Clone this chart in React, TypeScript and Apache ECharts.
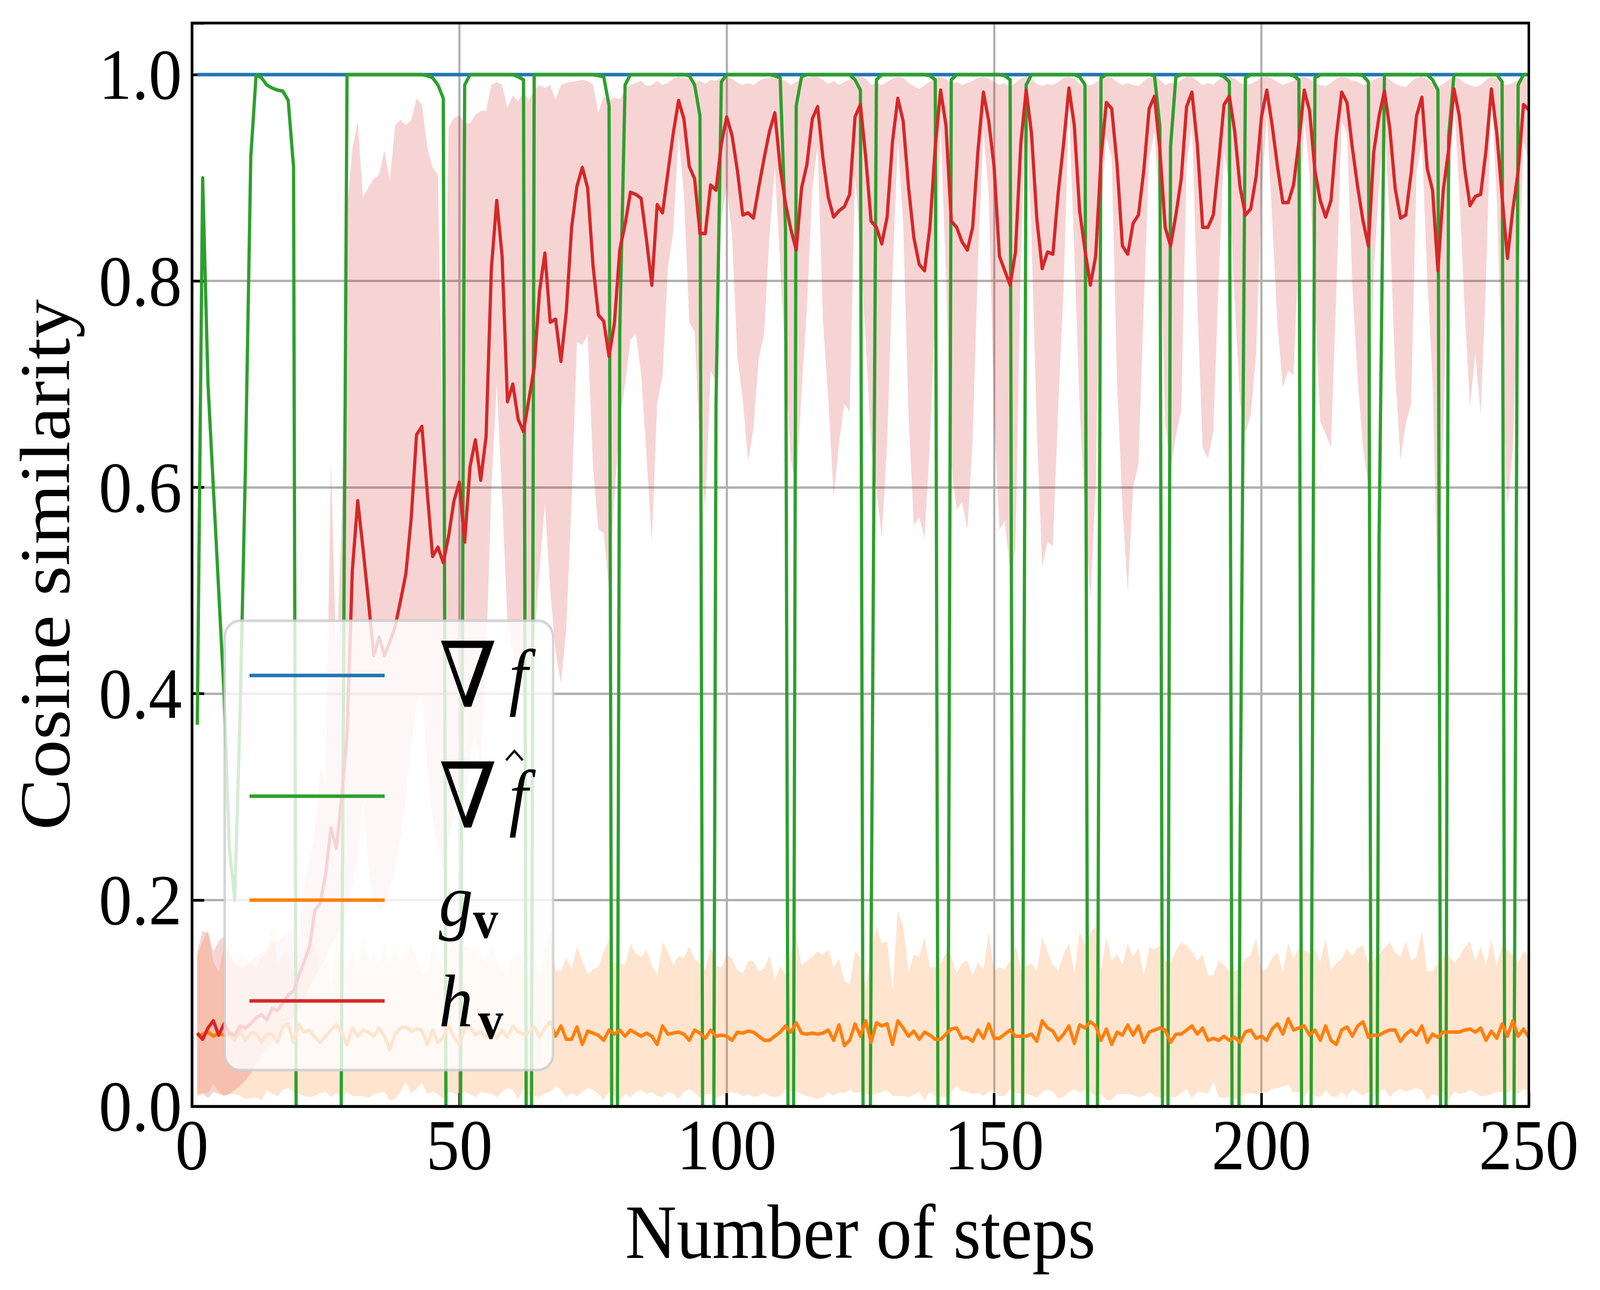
import React, { useEffect, useRef, useState } from 'react';
import * as echarts from 'echarts';

const W = 4451;
const H = 3302;
const SERIF = '"Liberation Serif", "Times New Roman", serif';
const MATH = '"DejaVu Serif", serif';

const BLUE = '#1f77b4';
const GREEN = '#2ca02c';
const ORANGE = '#ff7f0e';
const RED = '#d62728';

// x positions (training steps)
const steps = Array.from({ length: 250 }, (_, i) => i + 1);
const xTickValues = [0, 50, 100, 150, 200, 250];
const yTickValues = [0, 0.2, 0.4, 0.6, 0.8, 1.0];

// ∇f : exact gradient, cosine similarity with itself
const gradF = [
  1, 1, 1, 1, 1, 1, 1, 1, 1, 1, 1, 1, 1, 1, 1, 1, 1, 1, 1, 1, 1, 1, 1, 1, 1,
  1, 1, 1, 1, 1, 1, 1, 1, 1, 1, 1, 1, 1, 1, 1, 1, 1, 1, 1, 1, 1, 1, 1, 1, 1,
  1, 1, 1, 1, 1, 1, 1, 1, 1, 1, 1, 1, 1, 1, 1, 1, 1, 1, 1, 1, 1, 1, 1, 1, 1,
  1, 1, 1, 1, 1, 1, 1, 1, 1, 1, 1, 1, 1, 1, 1, 1, 1, 1, 1, 1, 1, 1, 1, 1, 1,
  1, 1, 1, 1, 1, 1, 1, 1, 1, 1, 1, 1, 1, 1, 1, 1, 1, 1, 1, 1, 1, 1, 1, 1, 1,
  1, 1, 1, 1, 1, 1, 1, 1, 1, 1, 1, 1, 1, 1, 1, 1, 1, 1, 1, 1, 1, 1, 1, 1, 1,
  1, 1, 1, 1, 1, 1, 1, 1, 1, 1, 1, 1, 1, 1, 1, 1, 1, 1, 1, 1, 1, 1, 1, 1, 1,
  1, 1, 1, 1, 1, 1, 1, 1, 1, 1, 1, 1, 1, 1, 1, 1, 1, 1, 1, 1, 1, 1, 1, 1, 1,
  1, 1, 1, 1, 1, 1, 1, 1, 1, 1, 1, 1, 1, 1, 1, 1, 1, 1, 1, 1, 1, 1, 1, 1, 1,
  1, 1, 1, 1, 1, 1, 1, 1, 1, 1, 1, 1, 1, 1, 1, 1, 1, 1, 1, 1, 1, 1, 1, 1, 1,
];

// ∇f̂ : surrogate gradient (drops to about -1, clipped by the axis)
const gradFHat = [
  0.37, 0.90, 0.70, 0.60, 0.50, 0.40, 0.25, 0.20, 0.38, 0.62,
  0.92, 1.00, 0.997, 0.99, 0.987, 0.985, 0.984, 0.975, 0.91, -1,
  -1, -1, -1, -1, -1, -1, -1, 0.10, 1.00, 1.00,
  1, 1, 1, 1, 1, 1, 1, 1, 1, 1,
  1, 1, 1, 0.999, 0.997, 0.99, 0.977, -1, -1, -0.3,
  0.99, 1, 1, 1, 1, 1, 1, 1, 1, 1,
  0.998, 0.995, -1, 1, 1, 1, 1, 1, 1, 1,
  1, 1, 1, 1, 1, 0.999, 0.998, 0.97, -1, 0.75,
  0.99, 1, 1, 1, 1, 1, 1, 1, 1, 1,
  1, 1, 0.999, 0.99, 0.96, -1, -1, 0.68, 0.993, 1,
  1, 1, 1, 1, 1, 1, 1, 1, 0.999, 0.997,
  0.85, -1, 0.97, 0.998, 1, 1, 1, 1, 1, 1,
  1, 1, 1, 0.995, 0.985, -1, 0.15, 0.995, 1, 1,
  1, 1, 1, 1, 1, 1, 1, 0.999, 0.995, -1,
  -0.6, 0.995, 1, 1, 1, 1, 1, 1, 1, 1,
  1, 0.999, 0.995, -1, -0.5, 0.99, 1, 1, 1, 1,
  1, 1, 1, 1, 1, 0.998, 0.99, -1, -0.5, 0.997,
  1, 1, 1, 1, 1, 1, 1, 1, 1, 0.999,
  0.95, -1, 0.93, 0.998, 1, 1, 1, 1, 1, 1,
  1, 1, 0.998, 0.993, -1, 0.25, 0.997, 1, 1, 1,
  1, 1, 1, 1, 1, 0.999, 0.995, -1, -0.4, 0.997,
  1, 1, 1, 1, 1, 1, 1, 1, 0.999, 0.993,
  -1, 0.55, 1, 1, 1, 1, 1, 1, 1, 1,
  1, 0.995, 0.985, -1, 0.94, 1, 1, 1, 1, 1,
  1, 1, 1, 1, 0.993, -1, -0.3, 0.99, 1, 1,
];

// g_v : mean and band
const gMean = [
  0.068, 0.070, 0.072, 0.068, 0.071, 0.069, 0.070, 0.064, 0.074, 0.064,
  0.071, 0.071, 0.062, 0.070, 0.070, 0.062, 0.077, 0.080, 0.062, 0.079,
  0.072, 0.074, 0.067, 0.062, 0.068, 0.074, 0.079, 0.072, 0.060, 0.076,
  0.068, 0.074, 0.072, 0.068, 0.076, 0.068, 0.055, 0.070, 0.076, 0.077,
  0.073, 0.075, 0.074, 0.060, 0.074, 0.062, 0.067, 0.079, 0.067, 0.060,
  0.075, 0.077, 0.069, 0.073, 0.067, 0.074, 0.066, 0.074, 0.067, 0.078,
  0.072, 0.070, 0.072, 0.077, 0.067, 0.076, 0.082, 0.068, 0.078, 0.065,
  0.065, 0.077, 0.060, 0.073, 0.071, 0.069, 0.064, 0.074, 0.070, 0.074,
  0.068, 0.074, 0.071, 0.068, 0.071, 0.068, 0.060, 0.078, 0.070, 0.071,
  0.072, 0.070, 0.064, 0.074, 0.071, 0.066, 0.074, 0.068, 0.069, 0.068,
  0.064, 0.072, 0.071, 0.073, 0.072, 0.068, 0.064, 0.064, 0.068, 0.072,
  0.078, 0.072, 0.081, 0.071, 0.070, 0.071, 0.070, 0.071, 0.074, 0.064,
  0.079, 0.059, 0.064, 0.080, 0.068, 0.083, 0.062, 0.081, 0.078, 0.080,
  0.060, 0.083, 0.076, 0.068, 0.073, 0.065, 0.072, 0.069, 0.065, 0.065,
  0.070, 0.075, 0.076, 0.066, 0.067, 0.063, 0.074, 0.066, 0.080, 0.066,
  0.066, 0.070, 0.074, 0.068, 0.068, 0.068, 0.070, 0.063, 0.083, 0.076,
  0.073, 0.064, 0.070, 0.078, 0.061, 0.079, 0.076, 0.082, 0.078, 0.064,
  0.075, 0.060, 0.072, 0.069, 0.079, 0.069, 0.078, 0.062, 0.072, 0.074,
  0.076, 0.074, 0.062, 0.070, 0.070, 0.074, 0.078, 0.070, 0.076, 0.064,
  0.066, 0.064, 0.068, 0.064, 0.067, 0.062, 0.072, 0.074, 0.066, 0.068,
  0.064, 0.075, 0.080, 0.070, 0.085, 0.074, 0.076, 0.078, 0.069, 0.074,
  0.064, 0.078, 0.064, 0.060, 0.074, 0.077, 0.068, 0.078, 0.082, 0.067,
  0.069, 0.069, 0.072, 0.074, 0.074, 0.063, 0.070, 0.074, 0.069, 0.078,
  0.062, 0.070, 0.067, 0.072, 0.072, 0.072, 0.072, 0.074, 0.075, 0.072,
  0.076, 0.064, 0.073, 0.066, 0.080, 0.068, 0.083, 0.068, 0.075, 0.067,
];

const gUpper = [
  0.147, 0.160, 0.172, 0.140, 0.130, 0.155, 0.148, 0.136, 0.145, 0.144,
  0.140, 0.133, 0.145, 0.150, 0.175, 0.139, 0.147, 0.150, 0.129, 0.140,
  0.151, 0.162, 0.155, 0.137, 0.147, 0.114, 0.168, 0.158, 0.133, 0.152,
  0.131, 0.166, 0.141, 0.148, 0.136, 0.158, 0.136, 0.155, 0.140, 0.150,
  0.158, 0.143, 0.129, 0.128, 0.155, 0.145, 0.133, 0.150, 0.162, 0.150,
  0.155, 0.154, 0.150, 0.144, 0.139, 0.154, 0.140, 0.133, 0.128, 0.148,
  0.150, 0.139, 0.128, 0.148, 0.128, 0.152, 0.170, 0.132, 0.131, 0.144,
  0.133, 0.155, 0.141, 0.128, 0.133, 0.135, 0.150, 0.162, 0.139, 0.139,
  0.137, 0.158, 0.148, 0.145, 0.152, 0.137, 0.127, 0.159, 0.150, 0.137,
  0.146, 0.144, 0.155, 0.143, 0.139, 0.133, 0.155, 0.136, 0.135, 0.147,
  0.143, 0.132, 0.129, 0.141, 0.141, 0.131, 0.133, 0.147, 0.122, 0.136,
  0.128, 0.149, 0.166, 0.137, 0.141, 0.145, 0.150, 0.147, 0.152, 0.135,
  0.143, 0.122, 0.118, 0.151, 0.144, 0.114, 0.150, 0.175, 0.158, 0.160,
  0.114, 0.189, 0.175, 0.130, 0.147, 0.145, 0.164, 0.135, 0.135, 0.139,
  0.149, 0.145, 0.129, 0.139, 0.141, 0.127, 0.140, 0.132, 0.169, 0.131,
  0.135, 0.133, 0.141, 0.156, 0.133, 0.136, 0.139, 0.131, 0.164, 0.150,
  0.137, 0.132, 0.148, 0.158, 0.129, 0.169, 0.158, 0.168, 0.175, 0.132,
  0.164, 0.141, 0.148, 0.137, 0.158, 0.145, 0.154, 0.127, 0.154, 0.152,
  0.156, 0.141, 0.139, 0.151, 0.159, 0.156, 0.150, 0.141, 0.147, 0.127,
  0.127, 0.142, 0.137, 0.131, 0.131, 0.133, 0.143, 0.147, 0.163, 0.131,
  0.133, 0.144, 0.149, 0.131, 0.158, 0.143, 0.154, 0.151, 0.149, 0.152,
  0.140, 0.163, 0.132, 0.139, 0.143, 0.153, 0.146, 0.154, 0.156, 0.139,
  0.142, 0.147, 0.154, 0.159, 0.149, 0.145, 0.160, 0.141, 0.145, 0.170,
  0.131, 0.131, 0.139, 0.145, 0.147, 0.139, 0.145, 0.154, 0.160, 0.141,
  0.155, 0.137, 0.162, 0.136, 0.156, 0.152, 0.146, 0.139, 0.151, 0.145,
];

const gLower = [
  0.012, 0.013, 0.013, 0.022, 0.014, 0.011, 0.012, 0.012, 0.010, 0.007,
  0.008, 0.009, 0.006, 0.016, 0.012, 0.010, 0.016, 0.018, 0.014, 0.012,
  0.010, 0.009, 0.010, 0.013, 0.014, 0.009, 0.013, 0.007, 0.014, 0.010,
  0.010, 0.010, 0.008, 0.012, 0.013, 0.014, 0.006, 0.007, 0.014, 0.024,
  0.012, 0.017, 0.023, 0.012, 0.014, 0.012, 0.007, 0.014, 0.013, 0.010,
  0.014, 0.012, 0.009, 0.014, 0.013, 0.012, 0.009, 0.014, 0.018, 0.016,
  0.007, 0.017, 0.010, 0.010, 0.009, 0.013, 0.014, 0.020, 0.016, 0.009,
  0.013, 0.010, 0.014, 0.018, 0.016, 0.012, 0.006, 0.014, 0.010, 0.006,
  0.012, 0.009, 0.014, 0.016, 0.012, 0.014, 0.010, 0.009, 0.014, 0.012,
  0.007, 0.014, 0.017, 0.013, 0.009, 0.012, 0.012, 0.009, 0.010, 0.013,
  0.014, 0.013, 0.010, 0.012, 0.009, 0.010, 0.013, 0.010, 0.009, 0.010,
  0.017, 0.014, 0.014, 0.012, 0.010, 0.009, 0.007, 0.009, 0.014, 0.010,
  0.014, 0.013, 0.016, 0.013, 0.014, 0.012, 0.011, 0.012, 0.014, 0.016,
  0.010, 0.010, 0.010, 0.009, 0.011, 0.014, 0.006, 0.014, 0.010, 0.009,
  0.009, 0.014, 0.020, 0.014, 0.014, 0.012, 0.013, 0.010, 0.014, 0.016,
  0.010, 0.010, 0.017, 0.013, 0.012, 0.012, 0.011, 0.008, 0.014, 0.016,
  0.014, 0.008, 0.009, 0.014, 0.017, 0.013, 0.016, 0.014, 0.010, 0.012,
  0.006, 0.006, 0.012, 0.012, 0.012, 0.011, 0.009, 0.010, 0.014, 0.010,
  0.009, 0.010, 0.009, 0.009, 0.013, 0.017, 0.008, 0.014, 0.014, 0.012,
  0.024, 0.009, 0.008, 0.009, 0.007, 0.009, 0.012, 0.013, 0.012, 0.015,
  0.013, 0.017, 0.018, 0.019, 0.021, 0.013, 0.014, 0.009, 0.017, 0.010,
  0.009, 0.016, 0.010, 0.009, 0.014, 0.009, 0.017, 0.013, 0.010, 0.014,
  0.009, 0.014, 0.017, 0.009, 0.014, 0.017, 0.014, 0.016, 0.018, 0.016,
  0.006, 0.012, 0.010, 0.014, 0.006, 0.014, 0.012, 0.013, 0.016, 0.013,
  0.010, 0.010, 0.012, 0.014, 0.014, 0.013, 0.016, 0.012, 0.017, 0.014,
];

// h_v : mean and band
const hMean = [
  0.071, 0.065, 0.076, 0.083, 0.069, 0.080, 0.071, 0.069, 0.078, 0.076,
  0.080, 0.086, 0.089, 0.084, 0.095, 0.093, 0.100, 0.108, 0.112, 0.127,
  0.140, 0.155, 0.190, 0.197, 0.225, 0.270, 0.250, 0.300, 0.360, 0.520,
  0.587, 0.540, 0.490, 0.437, 0.455, 0.437, 0.450, 0.465, 0.490, 0.516,
  0.570, 0.651, 0.659, 0.595, 0.533, 0.542, 0.527, 0.553, 0.587, 0.605,
  0.547, 0.620, 0.646, 0.607, 0.649, 0.813, 0.878, 0.824, 0.683, 0.700,
  0.666, 0.654, 0.685, 0.716, 0.790, 0.827, 0.760, 0.763, 0.722, 0.770,
  0.852, 0.892, 0.910, 0.890, 0.815, 0.767, 0.761, 0.727, 0.759, 0.830,
  0.855, 0.886, 0.884, 0.880, 0.840, 0.796, 0.874, 0.866, 0.905, 0.943,
  0.975, 0.957, 0.911, 0.899, 0.846, 0.846, 0.893, 0.888, 0.933, 0.959,
  0.941, 0.907, 0.864, 0.866, 0.861, 0.891, 0.919, 0.945, 0.963, 0.910,
  0.875, 0.850, 0.830, 0.890, 0.913, 0.957, 0.969, 0.919, 0.881, 0.862,
  0.868, 0.872, 0.884, 0.959, 0.971, 0.920, 0.858, 0.852, 0.836, 0.862,
  0.935, 0.977, 0.955, 0.891, 0.842, 0.816, 0.810, 0.852, 0.930, 0.985,
  0.951, 0.858, 0.852, 0.838, 0.830, 0.852, 0.927, 0.983, 0.955, 0.911,
  0.824, 0.810, 0.796, 0.828, 0.933, 0.985, 0.943, 0.860, 0.812, 0.828,
  0.826, 0.886, 0.933, 0.987, 0.951, 0.868, 0.830, 0.796, 0.824, 0.919,
  0.973, 0.967, 0.913, 0.834, 0.826, 0.856, 0.864, 0.907, 0.967, 0.979,
  0.927, 0.852, 0.834, 0.864, 0.899, 0.969, 0.983, 0.933, 0.852, 0.852,
  0.864, 0.915, 0.971, 0.979, 0.945, 0.891, 0.864, 0.870, 0.901, 0.959,
  0.985, 0.951, 0.911, 0.876, 0.876, 0.893, 0.935, 0.985, 0.965, 0.907,
  0.878, 0.862, 0.878, 0.940, 0.983, 0.973, 0.929, 0.891, 0.858, 0.834,
  0.925, 0.960, 0.984, 0.948, 0.890, 0.861, 0.864, 0.905, 0.960, 0.978,
  0.909, 0.888, 0.810, 0.888, 0.927, 0.986, 0.960, 0.909, 0.873, 0.882,
  0.884, 0.927, 0.986, 0.944, 0.882, 0.822, 0.869, 0.906, 0.971, 0.966,
];

const hUpper = [
  0.150, 0.170, 0.168, 0.150, 0.160, 0.165, 0.150, 0.140, 0.135, 0.135,
  0.140, 0.145, 0.150, 0.150, 0.160, 0.160, 0.165, 0.170, 0.170, 0.165,
  0.215, 0.240, 0.268, 0.330, 0.310, 0.626, 0.430, 0.570, 0.870, 0.928,
  0.954, 0.881, 0.891, 0.899, 0.903, 0.927, 0.897, 0.951, 0.956, 0.951,
  0.956, 0.977, 0.971, 0.930, 0.910, 0.903, 0.600, 0.949, 0.958, 0.961,
  0.953, 0.953, 0.961, 0.965, 0.965, 0.990, 0.993, 0.990, 0.968, 0.980,
  0.974, 0.984, 0.975, 0.985, 0.990, 0.987, 0.990, 0.976, 0.990, 0.992,
  0.993, 0.994, 0.995, 0.994, 0.990, 0.963, 0.979, 0.975, 0.978, 0.976,
  0.985, 0.990, 0.992, 0.994, 0.989, 0.990, 0.994, 0.990, 0.992, 0.996,
  0.998, 0.997, 0.996, 0.993, 0.994, 0.991, 0.995, 0.994, 0.997, 0.998,
  0.996, 0.992, 0.990, 0.992, 0.990, 0.994, 0.996, 0.997, 0.998, 0.996,
  0.994, 0.990, 0.993, 0.995, 0.997, 0.998, 0.998, 0.995, 0.991, 0.994,
  0.990, 0.993, 0.995, 0.998, 0.998, 0.996, 0.990, 0.992, 0.990, 0.993,
  0.996, 0.998, 0.997, 0.992, 0.989, 0.986, 0.990, 0.993, 0.997, 0.998,
  0.996, 0.991, 0.993, 0.990, 0.992, 0.994, 0.997, 0.998, 0.996, 0.993,
  0.990, 0.992, 0.988, 0.992, 0.996, 0.998, 0.996, 0.991, 0.989, 0.991,
  0.990, 0.993, 0.997, 0.998, 0.996, 0.991, 0.989, 0.990, 0.992, 0.996,
  0.998, 0.997, 0.993, 0.990, 0.992, 0.990, 0.989, 0.994, 0.997, 0.998,
  0.995, 0.990, 0.992, 0.991, 0.995, 0.998, 0.998, 0.994, 0.990, 0.992,
  0.990, 0.995, 0.997, 0.998, 0.996, 0.992, 0.990, 0.991, 0.994, 0.997,
  0.998, 0.996, 0.993, 0.990, 0.992, 0.994, 0.997, 0.998, 0.996, 0.992,
  0.990, 0.989, 0.992, 0.996, 0.998, 0.997, 0.994, 0.993, 0.990, 0.991,
  0.995, 0.997, 0.998, 0.995, 0.991, 0.989, 0.988, 0.993, 0.997, 0.998,
  0.995, 0.992, 0.988, 0.991, 0.995, 0.998, 0.996, 0.992, 0.990, 0.988,
  0.990, 0.995, 0.998, 0.996, 0.991, 0.990, 0.992, 0.995, 0.997, 0.996,
];

const hLower = [
  0.010, 0.012, 0.008, 0.014, 0.012, 0.010, 0.012, 0.016, 0.020, 0.025,
  0.032, 0.040, 0.048, 0.055, 0.062, 0.068, 0.074, 0.080, 0.088, 0.095,
  0.105, 0.115, 0.125, 0.135, 0.145, 0.155, 0.165, 0.175, 0.190, 0.215,
  0.240, 0.298, 0.230, 0.200, 0.190, 0.195, 0.210, 0.230, 0.260, 0.300,
  0.350, 0.390, 0.400, 0.330, 0.280, 0.250, 0.230, 0.260, 0.280, 0.305,
  0.290, 0.340, 0.360, 0.330, 0.430, 0.600, 0.700, 0.590, 0.470, 0.440,
  0.420, 0.400, 0.420, 0.450, 0.520, 0.584, 0.500, 0.440, 0.410, 0.462,
  0.587, 0.741, 0.738, 0.748, 0.619, 0.559, 0.556, 0.500, 0.590, 0.666,
  0.700, 0.743, 0.749, 0.710, 0.631, 0.547, 0.682, 0.707, 0.812, 0.848,
  0.941, 0.884, 0.760, 0.751, 0.631, 0.581, 0.713, 0.703, 0.860, 0.892,
  0.844, 0.726, 0.685, 0.625, 0.657, 0.725, 0.749, 0.844, 0.911, 0.816,
  0.720, 0.626, 0.600, 0.693, 0.773, 0.890, 0.931, 0.761, 0.685, 0.590,
  0.642, 0.681, 0.673, 0.903, 0.832, 0.741, 0.640, 0.598, 0.551, 0.642,
  0.804, 0.935, 0.856, 0.670, 0.563, 0.571, 0.551, 0.642, 0.773, 0.951,
  0.804, 0.622, 0.578, 0.586, 0.559, 0.646, 0.820, 0.947, 0.884, 0.670,
  0.559, 0.567, 0.519, 0.539, 0.820, 0.971, 0.844, 0.654, 0.523, 0.547,
  0.543, 0.678, 0.792, 0.971, 0.828, 0.678, 0.575, 0.491, 0.598, 0.868,
  0.939, 0.919, 0.701, 0.582, 0.499, 0.600, 0.622, 0.777, 0.919, 0.945,
  0.860, 0.662, 0.618, 0.650, 0.674, 0.911, 0.953, 0.780, 0.638, 0.628,
  0.654, 0.800, 0.927, 0.891, 0.780, 0.681, 0.652, 0.670, 0.729, 0.880,
  0.961, 0.860, 0.757, 0.697, 0.713, 0.709, 0.836, 0.959, 0.903, 0.780,
  0.664, 0.652, 0.638, 0.790, 0.955, 0.943, 0.795, 0.705, 0.638, 0.601,
  0.811, 0.891, 0.956, 0.855, 0.712, 0.627, 0.662, 0.681, 0.906, 0.935,
  0.804, 0.703, 0.480, 0.656, 0.860, 0.975, 0.887, 0.772, 0.678, 0.730,
  0.670, 0.800, 0.985, 0.880, 0.710, 0.580, 0.638, 0.790, 0.935, 0.915,
];

const legendNames = ['∇f', '∇f̂', 'g_v', 'h_v'];

// Plot-area layout (pixels)
const PLOT_LEFT = 534;
const PLOT_TOP = 59;
const PLOT_RIGHT = 4253;
const PLOT_BOTTOM = 2832;

function pairs(ys: number[]) {
  return steps.map((s, i) => [s, ys[i]]);
}

function bandSeries(name: string, lower: number[], upper: number[], fill: string) {
  return {
    name,
    type: 'custom',
    silent: true,
    clip: true,
    z: 1,
    data: [[steps[0], lower[0]]],
    renderItem: (_params: any, api: any) => {
      const pts: number[][] = [];
      for (let i = 0; i < steps.length; i++) pts.push(api.coord([steps[i], upper[i]]));
      for (let i = steps.length - 1; i >= 0; i--) pts.push(api.coord([steps[i], lower[i]]));
      return {
        type: 'polygon',
        silent: true,
        shape: { points: pts },
        style: { fill, stroke: 'none' },
      };
    },
  };
}

function lineSeries(name: string, ys: number[], color: string) {
  return {
    name,
    type: 'line',
    data: pairs(ys),
    symbol: 'none',
    showSymbol: false,
    clip: true,
    z: 2,
    color,
    itemStyle: { color },
    lineStyle: { color, width: 9, join: 'round' },
  };
}

function buildOption() {
  const italic = { fontFamily: SERIF, fontStyle: 'italic', fontSize: 190, color: '#000' };
  const italicF = { ...italic, padding: [0, 0, 0, 33] };
  const nabla = { fontFamily: MATH, fontSize: 232, color: '#000' };
  const bold = { fontFamily: SERIF, fontWeight: 'bold', fontSize: 140, color: '#000' };
  const spacer = (half: number) => ({
    fontFamily: SERIF,
    fontSize: 20,
    color: 'rgba(0,0,0,0)',
    backgroundColor: 'rgba(0,0,0,0)',
    padding: [half - 10, 0, half - 10, 0],
  });
  const legendText: Record<string, string> = {
    '∇f': '{n1|∇}{f1|f}{s1| }',
    '∇f̂': '{n2|∇}{f2|f}{s2| }',
    g_v: '{g3|g}{v3|v}',
    h_v: '{h4|h}{v4|v}{s4| }',
  };

  return {
    animation: false,
    backgroundColor: '#ffffff',
    grid: {
      left: PLOT_LEFT,
      top: PLOT_TOP,
      right: W - PLOT_RIGHT,
      bottom: H - PLOT_BOTTOM,
      containLabel: false,
    },
    xAxis: {
      type: 'value',
      min: 0,
      max: 250,
      interval: 50,
      name: 'Number of steps',
      nameLocation: 'middle',
      nameGap: 222,
      nameTextStyle: { fontFamily: SERIF, fontSize: 198, color: '#000' },
      axisLine: { show: true, onZero: false, lineStyle: { color: '#000', width: 7 } },
      axisTick: { show: true, inside: true, length: 34, lineStyle: { color: '#000', width: 7 } },
      axisLabel: {
        fontFamily: SERIF,
        fontSize: 185,
        color: '#000',
        margin: 6,
        formatter: (v: number) => (xTickValues.indexOf(v) >= 0 ? String(v) : ''),
      },
      splitLine: { show: true, lineStyle: { color: '#b0b0b0', width: 6 } },
    },
    yAxis: {
      type: 'value',
      min: 0,
      max: 1.05,
      interval: 0.2,
      name: 'Cosine similarity',
      nameLocation: 'middle',
      nameGap: 310,
      nameTextStyle: { fontFamily: SERIF, fontSize: 198, color: '#000' },
      axisLine: { show: true, onZero: false, lineStyle: { color: '#000', width: 7 } },
      axisTick: { show: true, inside: true, length: 34, lineStyle: { color: '#000', width: 7 } },
      axisLabel: {
        fontFamily: SERIF,
        fontSize: 185,
        color: '#000',
        margin: 28,
        formatter: (v: number) =>
          yTickValues.some((t) => Math.abs(t - v) < 1e-9) ? v.toFixed(1) : '',
      },
      splitLine: { show: true, lineStyle: { color: '#b0b0b0', width: 6 } },
    },
    legend: {
      data: legendNames,
      orient: 'vertical',
      left: 625,
      top: 1589,
      padding: [2, 65, 39, 69],
      itemGap: 0,
      itemWidth: 376,
      itemHeight: 9,
      icon: 'rect',
      selectedMode: false,
      backgroundColor: 'rgba(255,255,255,0.8)',
      borderColor: 'rgba(204,204,204,0.8)',
      borderWidth: 7,
      borderRadius: 42,
      formatter: (name: string) => legendText[name] || name,
      textStyle: {
        color: '#000',
        padding: [0, 0, 0, 146],
        rich: {
          n1: { ...nabla },
          f1: { ...italicF },
          s1: spacer(138),
          n2: { ...nabla },
          f2: { ...italicF },
          s2: spacer(171),
          g3: { ...italic },
          v3: { ...bold, padding: [100, 0, 0, 0] },
          h4: { ...italic },
          v4: { ...bold, padding: [100, 0, 0, 14] },
          s4: spacer(138),
        },
      },
    },
    graphic: [
      {
        type: 'rect',
        silent: true,
        z: 100,
        shape: {
          x: PLOT_LEFT,
          y: PLOT_TOP,
          width: PLOT_RIGHT - PLOT_LEFT,
          height: PLOT_BOTTOM - PLOT_TOP,
        },
        style: { fill: 'none', stroke: '#000', lineWidth: 7 },
      },
      {
        type: 'polyline',
        silent: true,
        z: 100,
        shape: { points: [[1408, 1946], [1431, 1922], [1454, 1946]] },
        style: { fill: 'none', stroke: '#000', lineWidth: 6 },
      },
    ],
    series: [
      bandSeries('g_v band', gLower, gUpper, 'rgba(255,127,14,0.2)'),
      bandSeries('h_v band', hLower, hUpper, 'rgba(214,39,40,0.2)'),
      lineSeries('∇f', gradF, BLUE),
      lineSeries('∇f̂', gradFHat, GREEN),
      lineSeries('g_v', gMean, ORANGE),
      lineSeries('h_v', hMean, RED),
    ],
  };
}

export default function App() {
  const ref = useRef<HTMLDivElement>(null);
  const [fit, setFit] = useState({ sx: 1, sy: 1 });

  useEffect(() => {
    document.documentElement.style.margin = '0';
    document.documentElement.style.overflow = 'hidden';
    document.body.style.margin = '0';
    document.body.style.overflow = 'hidden';
    const vw = document.documentElement.clientWidth || window.innerWidth || W;
    const vh = document.documentElement.clientHeight || window.innerHeight || H;
    const sx = vw > 0 ? vw / W : 1;
    const sy = vh > 0 ? vh / H : 1;
    setFit({ sx, sy });
  }, []);

  useEffect(() => {
    const el = ref.current;
    if (!el) return;
    const chart = echarts.init(el, null, { renderer: 'svg', width: W, height: H });
    chart.setOption(buildOption() as any);
    return () => {
      chart.dispose();
    };
  }, []);

  return (
    <div
      style={{
        width: W * fit.sx,
        height: H * fit.sy,
        overflow: 'hidden',
        background: '#fff',
      }}
    >
      <div
        ref={ref}
        style={{
          width: W,
          height: H,
          background: '#fff',
          transform: `scale(${fit.sx}, ${fit.sy})`,
          transformOrigin: '0 0',
        }}
      />
    </div>
  );
}
